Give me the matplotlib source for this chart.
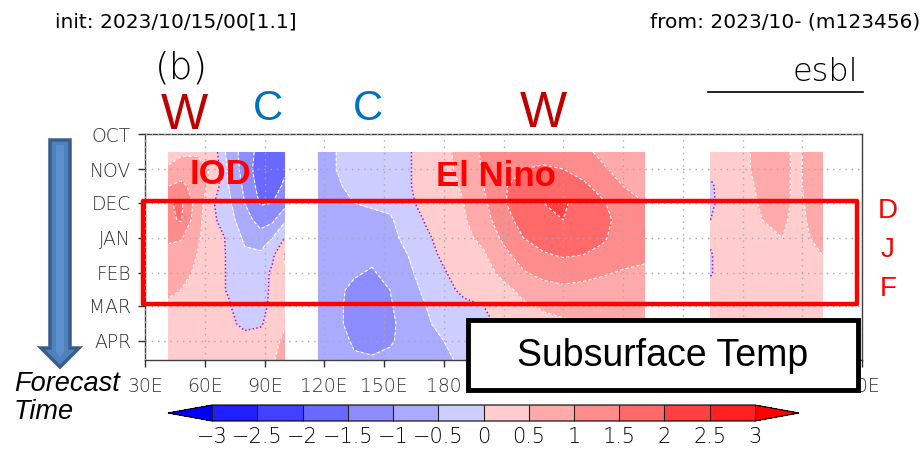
import numpy as np
import matplotlib
matplotlib.use('Agg')
import matplotlib.pyplot as plt
import matplotlib.colors as mcolors
from matplotlib.patches import Rectangle, Polygon
from matplotlib.lines import Line2D

# forecast time axis, days since 1 Oct 2023
time_days = [16, 31, 46, 61, 76, 92, 107, 123, 138, 152, 168, 183, 200]
month_days = [0, 31, 61, 92, 123, 152, 183]
month_labels = ['OCT', 'NOV', 'DEC', 'JAN', 'FEB', 'MAR', 'APR']

lon_ticks = [30, 60, 90, 120, 150, 180, 210, 240, 270, 300, 330, 360, 390]
lon_labels = ['30E', '60E', '90E', '120E', '150E', '180', '150W', '120W',
              '90W', '60W', '30W', '0', '30E']

# subsurface temperature anomaly, one row per forecast time
indian_lon = [42, 48, 56, 64, 72, 80, 88, 94, 100]
indian_val = [
    [0.35, 0.45, 0.45, 0.30, -0.70, -1.20, -1.70, -1.80, -1.60],
    [0.55, 0.65, 0.65, 0.45, -0.60, -1.20, -1.80, -1.90, -1.60],
    [1.00, 1.15, 0.75, 0.35, -0.50, -1.10, -1.70, -1.80, -1.40],
    [1.45, 1.60, 0.80, 0.05, -0.40, -1.00, -1.55, -1.50, -1.20],
    [1.40, 1.55, 0.70, 0.10, -0.30, -0.80, -1.20, -1.10, -0.60],
    [1.10, 1.05, 0.60, 0.15, -0.05, -0.60, -0.80, -0.50, 0.00],
    [0.80, 0.75, 0.50, 0.20, -0.05, -0.40, -0.40, -0.10, 0.55],
    [0.65, 0.60, 0.45, 0.20, -0.05, -0.30, -0.25, 0.10, 0.45],
    [0.55, 0.50, 0.35, 0.20, -0.05, -0.30, -0.20, 0.10, 0.30],
    [0.45, 0.40, 0.30, 0.20, 0.05, -0.30, -0.20, 0.15, 0.35],
    [0.40, 0.35, 0.30, 0.20, 0.10, -0.10, -0.05, 0.20, 0.45],
    [0.40, 0.35, 0.30, 0.25, 0.20, 0.15, 0.20, 0.35, 0.60],
    [0.40, 0.35, 0.30, 0.30, 0.30, 0.30, 0.35, 0.45, 0.70],
]

pacific_lon = [117, 126, 135, 144, 153, 162, 171, 180, 190, 200, 210, 220,
               230, 240, 250, 260, 270, 281]
pacific_val = [
    [-0.65, -0.50, -0.35, -0.30, -0.20, -0.05, 0.20, 0.40, 0.65, 1.10, 1.25, 1.30, 1.35, 1.30, 1.10, 0.90, 0.75, 0.65],
    [-0.70, -0.50, -0.35, -0.30, -0.20, -0.05, 0.20, 0.40, 0.60, 1.05, 1.35, 1.50, 1.55, 1.50, 1.30, 1.05, 0.85, 0.70],
    [-0.75, -0.55, -0.40, -0.35, -0.25, -0.05, 0.20, 0.35, 0.55, 1.00, 1.45, 1.70, 1.80, 1.75, 1.60, 1.30, 1.00, 0.85],
    [-0.80, -0.60, -0.50, -0.45, -0.40, -0.10, 0.15, 0.30, 0.50, 0.90, 1.45, 1.80, 2.00, 2.05, 1.85, 1.55, 1.20, 1.00],
    [-0.80, -0.65, -0.60, -0.60, -0.55, -0.30, 0.05, 0.25, 0.45, 0.80, 1.30, 1.70, 1.95, 2.00, 1.90, 1.65, 1.30, 1.10],
    [-0.80, -0.70, -0.70, -0.70, -0.60, -0.40, -0.10, 0.20, 0.40, 0.60, 1.10, 1.50, 1.70, 1.75, 1.70, 1.55, 1.30, 1.15],
    [-0.80, -0.80, -0.80, -0.90, -0.70, -0.50, -0.20, 0.10, 0.30, 0.45, 0.85, 1.25, 1.45, 1.55, 1.50, 1.40, 1.20, 1.10],
    [-0.80, -0.85, -0.95, -1.05, -0.85, -0.60, -0.30, -0.05, 0.25, 0.35, 0.60, 0.95, 1.15, 1.20, 1.15, 1.05, 0.95, 0.90],
    [-0.80, -0.90, -1.10, -1.20, -1.00, -0.70, -0.40, -0.15, 0.10, 0.25, 0.40, 0.60, 0.80, 0.90, 0.85, 0.80, 0.75, 0.70],
    [-0.80, -0.90, -1.15, -1.25, -1.05, -0.75, -0.50, -0.30, -0.10, 0.00, 0.30, 0.45, 0.55, 0.60, 0.60, 0.60, 0.60, 0.55],
    [-0.80, -0.90, -1.15, -1.25, -1.10, -0.80, -0.55, -0.40, -0.30, -0.10, 0.10, 0.30, 0.40, 0.45, 0.50, 0.55, 0.55, 0.50],
    [-0.80, -0.85, -1.05, -1.15, -1.05, -0.85, -0.60, -0.50, -0.40, -0.20, 0.00, 0.20, 0.35, 0.40, 0.45, 0.50, 0.55, 0.50],
    [-0.80, -0.85, -0.95, -0.95, -0.90, -0.85, -0.65, -0.55, -0.45, -0.30, -0.10, 0.10, 0.30, 0.35, 0.40, 0.45, 0.50, 0.50],
]

atlantic_lon = [314, 320, 330, 340, 350, 358, 364, 370]
atlantic_val = [
    [0.20, 0.30, 0.40, 0.65, 0.55, 0.45, 0.60, 0.65],
    [0.15, 0.30, 0.40, 0.65, 0.55, 0.45, 0.60, 0.65],
    [-0.10, 0.25, 0.35, 0.60, 0.55, 0.45, 0.60, 0.65],
    [-0.15, 0.25, 0.35, 0.55, 0.55, 0.45, 0.55, 0.60],
    [0.00, 0.25, 0.35, 0.50, 0.55, 0.40, 0.55, 0.60],
    [0.10, 0.25, 0.35, 0.40, 0.50, 0.40, 0.50, 0.55],
    [-0.05, 0.25, 0.30, 0.35, 0.40, 0.40, 0.45, 0.50],
    [-0.05, 0.25, 0.30, 0.30, 0.35, 0.35, 0.40, 0.40],
    [0.20, 0.30, 0.30, 0.30, 0.30, 0.35, 0.35, 0.35],
    [0.20, 0.30, 0.30, 0.30, 0.30, 0.35, 0.35, 0.35],
    [0.20, 0.30, 0.30, 0.30, 0.30, 0.35, 0.35, 0.35],
    [0.20, 0.30, 0.30, 0.30, 0.30, 0.35, 0.35, 0.35],
    [0.20, 0.30, 0.30, 0.30, 0.30, 0.35, 0.35, 0.35],
]

levels = [-3, -2.5, -2, -1.5, -1, -0.5, 0, 0.5, 1, 1.5, 2, 2.5, 3]
level_labels = ['\u22123', '\u22122.5', '\u22122', '\u22121.5', '\u22121', '\u22120.5',
                '0', '0.5', '1', '1.5', '2', '2.5', '3']
fill_colors = ['#2020ff', '#4141ff', '#6969ff', '#8c8cff', '#aaaaff', '#cdcdff',
               '#ffcdcd', '#ffaaaa', '#ff8c8c', '#ff6969', '#ff4141', '#ff2020']

W, H = 923, 450
fig = plt.figure(figsize=(W / 100, H / 100), dpi=100)


def fxy(px, py):
    # pixel position (from top-left) -> figure fraction
    return px / W, 1 - py / H


thin = {'family': 'DejaVu Sans', 'weight': 'light'}
arial = ['Liberation Sans', 'DejaVu Sans']

ax = fig.add_axes([145 / W, 1 - 360 / H, 717 / W, 226 / H])

cmap = mcolors.ListedColormap(fill_colors)
cmap.set_under('#0000ff')
cmap.set_over('#ff0000')
norm = mcolors.BoundaryNorm(levels, cmap.N)

cf = None
for lon, val in [(indian_lon, indian_val), (pacific_lon, pacific_val),
                 (atlantic_lon, atlantic_val)]:
    X, Y = np.meshgrid(lon, time_days)
    Z = np.array(val)
    cf = ax.contourf(X, Y, Z, levels=levels, cmap=cmap, norm=norm, extend='both', zorder=1)
    line_levels = [lv for lv in levels if lv != 0]
    ax.contour(X, Y, Z, levels=line_levels, colors='white', linewidths=0.8,
               linestyles=[(0, (3, 2))], zorder=2)
    ax.contour(X, Y, Z, levels=[0], colors='#9020d0', linewidths=1.1,
               linestyles=[(0, (1, 1.5))], zorder=2)

ax.set_xlim(30, 390)
ax.set_ylim(200, 0)
ax.set_xticks(lon_ticks)
ax.set_xticklabels(lon_labels, **thin)
ax.set_yticks(month_days)
ax.set_yticklabels(month_labels, **thin)
ax.tick_params(axis='both', direction='out', length=5, width=1, colors='#303030',
               labelsize=13.5, pad=5)
ax.tick_params(axis='x', pad=7)
ax.grid(True, color='#a8a8a8', linestyle=(0, (1, 3.5)), linewidth=1, zorder=3)
ax.set_axisbelow(False)
for s in ax.spines.values():
    s.set_color('#404040')
    s.set_linewidth(1)

# colour bar (triangles are drawn inside the axes box)
cax = fig.add_axes([168 / W, 1 - 421 / H, 631 / W, 16 / H])
cbar = fig.colorbar(cf, cax=cax, orientation='horizontal', extend='both',
                    extendfrac=44 / 540, drawedges=True, ticks=levels)
cbar.ax.set_xticklabels(level_labels, **thin, fontsize=15)
cbar.ax.tick_params(length=0, pad=4)
cbar.outline.set_linewidth(0.8)
cbar.dividers.set_color('#202020')
cbar.dividers.set_linewidth(0.8)

# header texts
fig.text(*fxy(55, 22), 'init: 2023/10/15/00[1.1]', fontsize=14.5, va='center', ha='left')
fig.text(*fxy(920, 22), 'from: 2023/10- (m123456)', fontsize=14.5, va='center', ha='right')
fig.text(*fxy(181, 68), '(b)', fontsize=27, va='center', ha='center', **thin)
fig.text(*fxy(858, 72), 'esbl', fontsize=23, va='center', ha='right', **thin)
fig.add_artist(Line2D([708 / W, 863 / W], [1 - 92 / H, 1 - 92 / H], color='black', lw=1.2))

# warm / cold markers
for x, y, s, c, fs in [(184, 116, 'W', '#c00000', 36), (268, 109, 'C', '#0070c0', 30),
                       (368, 109, 'C', '#0070c0', 30), (543, 114, 'W', '#c00000', 36)]:
    fig.text(*fxy(x, y), s, fontsize=fs, color=c, va='center', ha='center', family=arial)

fig.text(*fxy(221, 174), 'IOD', fontsize=25, color='red', weight='bold',
         va='center', ha='center', family=arial)
fig.text(*fxy(496, 176), 'El Nino', fontsize=25, color='red', weight='bold',
         va='center', ha='center', family=arial)

# DJF frame
x0, y0 = fxy(143, 304)
x1, y1 = fxy(857, 201)
fig.add_artist(Rectangle((x0, y0), x1 - x0, y1 - y0, fill=False, edgecolor='red',
                         linewidth=3.2, transform=fig.transFigure, joinstyle='round'))
for y, s in [(211, 'D'), (250, 'J'), (289, 'F')]:
    fig.text(*fxy(888, y), s, fontsize=20, color='red', va='center', ha='center', family=arial)

# forecast time arrow
pts = [(50, 140), (70, 140), (70, 348), (79, 348), (60, 367), (41, 348), (50, 348)]
fig.add_artist(Polygon([fxy(*p) for p in pts], closed=True, facecolor='#4f81bd',
                       edgecolor='#385d8a', linewidth=2.5, transform=fig.transFigure))
inner = [(56, 145), (64, 145), (64, 352), (60, 357), (56, 352)]
fig.add_artist(Polygon([fxy(*p) for p in inner], closed=True, facecolor='#5b8fd0',
                       edgecolor='none', transform=fig.transFigure))
fig.text(*fxy(14, 384), 'Forecast', fontsize=19.5, style='italic', va='center', ha='left', family=arial)
fig.text(*fxy(14, 412), 'Time', fontsize=19.5, style='italic', va='center', ha='left', family=arial)

# label box
bx0, by0 = fxy(468, 390)
bx1, by1 = fxy(858, 320)
fig.add_artist(Rectangle((bx0, by0), bx1 - bx0, by1 - by0, facecolor='white', edgecolor='black',
                         linewidth=3.5, transform=fig.transFigure, zorder=5))
fig.text(*fxy(663, 356), 'Subsurface Temp', fontsize=27, va='center', ha='center',
         family=arial, zorder=6)

fig.savefig('out.png', dpi=100)
